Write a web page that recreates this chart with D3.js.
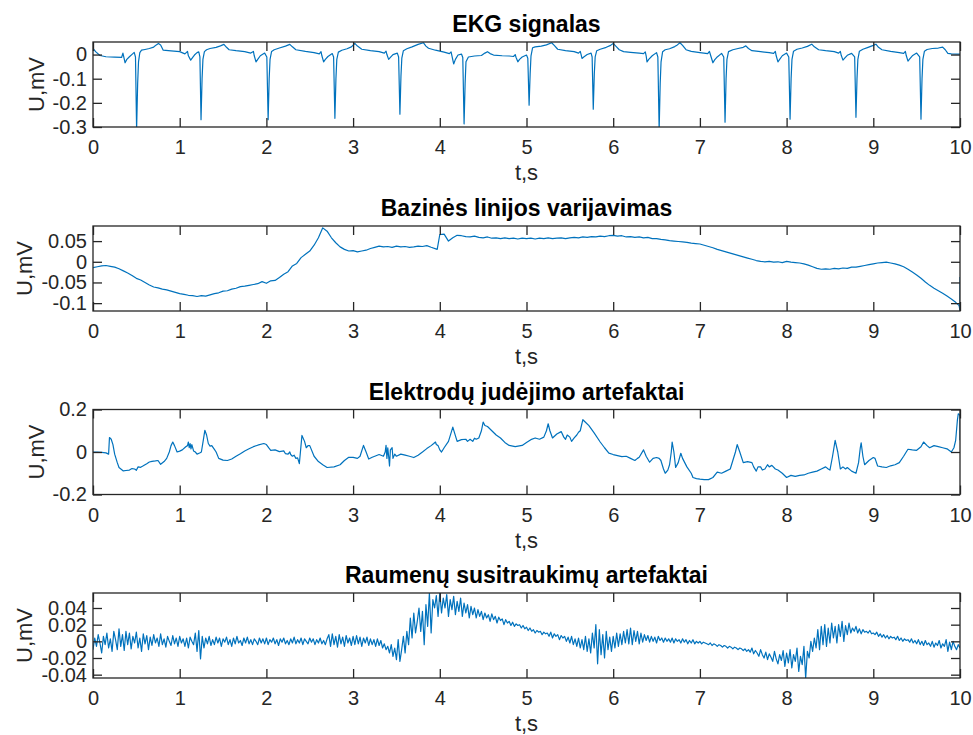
<!DOCTYPE html>
<html><head><meta charset="utf-8">
<script src="https://cdn.jsdelivr.net/npm/d3@7"></script>
<style>html,body{margin:0;padding:0;background:#fff;} svg{display:block;}</style>
</head><body>
<svg id="chart" width="973" height="735"></svg>
<script>
// ---------- DATA ----------
const xTicks = [0,1,2,3,4,5,6,7,8,9,10];
const titles = ["EKG signalas","Bazinės linijos varijavimas","Elektrodų judėjimo artefaktai","Raumenų susitraukimų artefaktai"];
const yTicks1 = [-0.3,-0.2,-0.1,0];
const yTicks2 = [-0.1,-0.05,0,0.05];
const yTicks3 = [-0.2,0,0.2];
const yTicks4 = [-0.04,-0.02,0,0.02,0.04];
const yLabel = "U,mV";
const xLabel = "t,s";

// EKG signal [t, mV]
const ekg = [
[0,0.026],[0.03,0.012],[0.08,-0.004],[0.15,-0.009],[0.25,-0.011],[0.33,-0.012],[0.345,0.006],[0.355,-0.01],[0.37,-0.034],[0.39,-0.02],[0.42,-0.009],[0.46,0.004],[0.475,0.009],[0.49,-0.01],
[0.503,-0.31],[0.515,-0.12],[0.525,-0.03],[0.54,0.008],[0.56,0.018],[0.6,0.021],[0.65,0.025],[0.7,0.031],[0.73,0.04],[0.755,0.046],[0.78,0.04],[0.81,0.018],[0.9,0.015],[1.0,0.012],[1.06,0.003],
[1.09,0.013],[1.1,-0.005],[1.127,-0.023],[1.15,-0.012],[1.17,-0.002],[1.2,0.008],[1.22,0.011],[1.233,-0.01],
[1.246,-0.27],[1.258,-0.1],[1.268,-0.02],[1.285,0.012],[1.31,0.02],[1.35,0.025],[1.42,0.03],[1.47,0.036],[1.51,0.042],[1.54,0.03],[1.57,0.02],[1.65,0.016],[1.75,0.012],[1.82,0.006],
[1.85,0.013],[1.86,-0.005],[1.88,-0.03],[1.9,-0.02],[1.93,-0.005],[1.98,0.006],[2.005,-0.01],
[2.02,-0.27],[2.032,-0.1],[2.042,-0.02],[2.06,0.013],[2.09,0.02],[2.15,0.027],[2.22,0.035],[2.27,0.042],[2.3,0.032],[2.34,0.02],[2.45,0.013],[2.55,0.008],[2.61,0.003],
[2.63,0.012],[2.64,-0.005],[2.66,-0.03],[2.68,-0.02],[2.71,-0.008],[2.76,0.004],[2.775,-0.01],
[2.79,-0.264],[2.802,-0.1],[2.812,-0.02],[2.83,0.01],[2.87,0.018],[2.93,0.024],[2.98,0.032],[3.02,0.046],[3.05,0.035],[3.1,0.022],[3.2,0.016],[3.3,0.012],[3.36,0.006],
[3.38,0.014],[3.39,0.0],[3.41,-0.02],[3.43,-0.012],[3.46,0.0],[3.51,0.006],[3.525,-0.01],
[3.54,-0.247],[3.552,-0.09],[3.562,-0.015],[3.58,0.016],[3.62,0.024],[3.68,0.032],[3.75,0.042],[3.81,0.049],[3.84,0.035],[3.87,0.026],[3.95,0.018],[4.05,0.01],[4.11,0.004],
[4.13,0.011],[4.14,-0.005],[4.16,-0.039],[4.18,-0.02],[4.21,-0.002],[4.25,0.002],[4.265,-0.012],
[4.28,-0.287],[4.292,-0.12],[4.302,-0.03],[4.33,-0.01],[4.4,-0.006],[4.48,-0.004],[4.52,0.006],[4.55,0.012],[4.58,0.004],[4.62,-0.002],[4.72,-0.005],[4.8,-0.006],[4.85,-0.008],
[4.87,0.0],[4.88,-0.012],[4.9,-0.03],[4.92,-0.02],[4.95,-0.01],[5.0,-0.002],[5.015,-0.015],
[5.03,-0.21],[5.042,-0.08],[5.052,-0.005],[5.07,0.028],[5.1,0.032],[5.17,0.035],[5.23,0.04],[5.29,0.049],[5.32,0.038],[5.36,0.022],[5.45,0.016],[5.55,0.012],[5.6,0.006],
[5.62,0.013],[5.63,0.0],[5.64,-0.016],[5.66,-0.01],[5.7,0.0],[5.745,0.006],[5.757,-0.01],
[5.77,-0.226],[5.782,-0.08],[5.792,-0.01],[5.81,0.016],[5.85,0.022],[5.92,0.03],[5.97,0.038],[6.0,0.046],[6.03,0.035],[6.07,0.02],[6.12,0.012],[6.2,0.009],[6.3,0.006],[6.35,0.004],
[6.37,0.011],[6.38,-0.005],[6.39,-0.03],[6.41,-0.02],[6.45,-0.005],[6.5,0.008],[6.515,-0.01],
[6.53,-0.31],[6.542,-0.12],[6.552,-0.03],[6.57,0.012],[6.6,0.02],[6.65,0.024],[6.71,0.033],[6.74,0.04],[6.77,0.049],[6.8,0.038],[6.84,0.02],[6.9,0.013],[7.0,0.008],[7.09,0.004],
[7.11,0.013],[7.125,-0.005],[7.15,-0.034],[7.17,-0.022],[7.2,-0.01],[7.25,0.005],[7.275,-0.01],
[7.29,-0.28],[7.302,-0.1],[7.312,-0.02],[7.33,0.012],[7.38,0.02],[7.44,0.025],[7.5,0.03],[7.53,0.036],[7.56,0.025],[7.6,0.016],[7.7,0.012],[7.8,0.008],[7.85,0.005],
[7.87,0.013],[7.88,-0.005],[7.9,-0.03],[7.92,-0.02],[7.95,-0.005],[8.0,0.006],[8.025,-0.01],
[8.04,-0.268],[8.052,-0.1],[8.062,-0.02],[8.08,0.014],[8.12,0.022],[8.18,0.027],[8.24,0.034],[8.29,0.043],[8.32,0.032],[8.37,0.02],[8.45,0.016],[8.55,0.012],[8.6,0.006],
[8.62,0.013],[8.63,-0.003],[8.65,-0.023],[8.67,-0.015],[8.7,-0.003],[8.75,0.005],[8.785,-0.01],
[8.80,-0.26],[8.812,-0.1],[8.822,-0.02],[8.84,0.014],[8.88,0.022],[8.94,0.03],[9.0,0.038],[9.03,0.043],[9.06,0.03],[9.1,0.02],[9.2,0.013],[9.3,0.008],[9.35,0.005],
[9.37,0.013],[9.38,-0.004],[9.40,-0.027],[9.42,-0.018],[9.45,-0.005],[9.5,0.006],[9.535,-0.01],
[9.55,-0.268],[9.562,-0.1],[9.572,-0.02],[9.59,0.014],[9.62,0.021],[9.68,0.025],[9.75,0.027],[9.8,0.031],[9.83,0.02],[9.86,0.005],[9.9,0.003],[10,0.002]
];

// Baseline wander [t, mV]
const baseline = [
[0,-0.014],[0.05,-0.012],[0.1,-0.01],[0.15,-0.009],[0.2,-0.011],[0.25,-0.013],[0.3,-0.017],[0.35,-0.022],[0.4,-0.027],[0.45,-0.033],[0.5,-0.04],[0.55,-0.044],[0.6,-0.05],[0.65,-0.056],[0.7,-0.061],[0.75,-0.063],[0.8,-0.066],[0.85,-0.068],[0.9,-0.071],[0.95,-0.074],
[1.0,-0.077],[1.05,-0.079],[1.1,-0.081],[1.15,-0.082],[1.2,-0.084],[1.25,-0.082],[1.3,-0.083],[1.35,-0.08],[1.4,-0.077],[1.45,-0.075],[1.5,-0.071],[1.55,-0.07],[1.6,-0.066],[1.65,-0.064],[1.7,-0.06],[1.75,-0.059],[1.8,-0.057],[1.85,-0.055],[1.9,-0.053],[1.95,-0.048],
[2.0,-0.052],[2.05,-0.046],[2.1,-0.045],[2.15,-0.038],[2.2,-0.03],[2.25,-0.024],[2.3,-0.01],[2.35,-0.004],[2.4,0.01],[2.45,0.018],[2.5,0.026],[2.55,0.04],[2.6,0.058],[2.65,0.082],[2.7,0.074],[2.75,0.058],[2.8,0.046],[2.85,0.036],[2.9,0.03],[2.95,0.026],
[3.0,0.027],[3.05,0.024],[3.1,0.026],[3.15,0.028],[3.2,0.032],[3.25,0.035],[3.3,0.038],[3.35,0.036],[3.4,0.037],[3.45,0.035],[3.5,0.038],[3.55,0.036],[3.6,0.037],[3.65,0.035],[3.7,0.036],[3.75,0.038],[3.8,0.037],[3.85,0.039],[3.9,0.035],[3.97,0.03],
[4.0,0.066],[4.05,0.067],[4.1,0.05],[4.15,0.058],[4.2,0.064],[4.25,0.063],[4.3,0.061],[4.35,0.06],[4.4,0.062],[4.45,0.059],[4.5,0.058],[4.55,0.06],[4.6,0.057],[4.65,0.058],[4.7,0.056],[4.75,0.058],[4.8,0.056],[4.85,0.057],[4.9,0.055],[4.95,0.057],
[5.0,0.056],[5.05,0.057],[5.1,0.055],[5.15,0.057],[5.2,0.056],[5.25,0.058],[5.3,0.056],[5.35,0.057],[5.4,0.058],[5.45,0.056],[5.5,0.058],[5.55,0.059],[5.6,0.058],[5.65,0.06],[5.7,0.059],[5.75,0.061],[5.8,0.06],[5.85,0.062],[5.9,0.061],[5.95,0.063],
[6.0,0.064],[6.05,0.062],[6.1,0.063],[6.15,0.06],[6.2,0.061],[6.25,0.059],[6.3,0.06],[6.35,0.058],[6.4,0.059],[6.45,0.056],[6.5,0.056],[6.55,0.054],[6.6,0.053],[6.65,0.051],[6.7,0.05],[6.75,0.049],[6.8,0.048],[6.85,0.047],[6.9,0.045],[6.95,0.044],
[7.0,0.043],[7.05,0.04],[7.1,0.037],[7.15,0.034],[7.2,0.03],[7.25,0.027],[7.3,0.024],[7.35,0.021],[7.4,0.018],[7.45,0.015],[7.5,0.012],[7.55,0.009],[7.6,0.006],[7.65,0.003],[7.7,0.001],[7.75,0.0],[7.8,0.001],[7.85,-0.001],[7.9,0.0],[7.95,-0.002],
[8.0,0.001],[8.05,-0.001],[8.1,-0.002],[8.15,-0.003],[8.2,-0.005],[8.25,-0.008],[8.3,-0.012],[8.35,-0.016],[8.4,-0.018],[8.45,-0.017],[8.5,-0.018],[8.55,-0.016],[8.6,-0.017],[8.65,-0.015],[8.7,-0.016],[8.75,-0.013],[8.8,-0.013],[8.85,-0.011],[8.9,-0.009],[8.95,-0.007],
[9.0,-0.005],[9.05,-0.003],[9.1,-0.002],[9.15,-0.001],[9.2,-0.003],[9.25,-0.005],[9.3,-0.008],[9.35,-0.012],[9.4,-0.018],[9.45,-0.025],[9.5,-0.032],[9.55,-0.04],[9.6,-0.049],[9.65,-0.057],[9.7,-0.064],[9.75,-0.07],[9.8,-0.076],[9.85,-0.083],[9.9,-0.09],[9.95,-0.098],
[9.99,-0.106],[10,-0.119],[10,-0.037]
];

// Electrode motion artefacts [t, mV]
const electrode = [
[0,0],[0.05,0.0],[0.1,-0.002],[0.15,-0.004],[0.18,-0.01],[0.19,0.068],[0.21,0.06],[0.23,0.035],[0.25,-0.01],[0.28,-0.05],[0.3,-0.073],[0.35,-0.089],[0.38,-0.087],[0.42,-0.085],[0.45,-0.078],[0.48,-0.08],[0.5,-0.086],[0.52,-0.07],[0.55,-0.072],[0.58,-0.065],[0.62,-0.055],[0.65,-0.047],[0.68,-0.044],[0.72,-0.042],[0.75,-0.04],[0.78,-0.058],[0.82,-0.045],[0.85,-0.03],[0.88,0.0],[0.9,0.03],[0.92,0.047],[0.94,0.03],[0.97,0.0],
[1.0,0.004],[1.03,0.01],[1.07,0.025],[1.09,0.03],[1.1,0.047],[1.11,0.02],[1.12,0.04],[1.13,0.015],[1.14,0.035],[1.16,0.005],[1.18,0.0],[1.2,-0.01],[1.23,-0.005],[1.25,0.0],[1.27,0.05],[1.29,0.102],[1.31,0.08],[1.33,0.04],[1.35,0.028],[1.37,0.03],[1.4,0.012],[1.42,0.0],[1.45,-0.03],[1.5,-0.038],[1.55,-0.04],[1.6,-0.033],[1.65,-0.02],[1.7,-0.008],[1.75,0.005],[1.8,0.015],[1.85,0.025],[1.9,0.032],[1.97,0.04],
[2.0,0.035],[2.03,0.018],[2.05,0.008],[2.1,0.01],[2.15,0.002],[2.2,0.005],[2.22,-0.008],[2.25,-0.01],[2.27,0.0],[2.28,-0.012],[2.3,-0.02],[2.32,-0.015],[2.34,-0.03],[2.36,-0.028],[2.38,-0.055],[2.41,0.078],[2.44,0.05],[2.46,0.02],[2.48,0.03],[2.5,0.03],[2.55,-0.02],[2.6,-0.045],[2.65,-0.06],[2.7,-0.073],[2.78,-0.07],[2.85,-0.06],[2.9,-0.04],[2.95,-0.025],
[3.0,-0.025],[3.05,-0.03],[3.08,-0.02],[3.12,0.031],[3.15,0.0],[3.18,-0.033],[3.22,-0.025],[3.25,-0.02],[3.3,-0.012],[3.35,-0.02],[3.37,0.0],[3.38,0.031],[3.39,-0.03],[3.4,0.02],[3.41,-0.02],[3.42,-0.066],[3.43,0.01],[3.45,0.02],[3.46,-0.03],[3.48,-0.01],[3.5,-0.02],[3.55,-0.01],[3.6,-0.015],[3.65,-0.02],[3.7,-0.026],[3.75,-0.015],[3.8,0.0],[3.85,0.016],[3.9,0.03],[3.93,0.04],[3.95,0.047],[3.96,0.035],[3.98,0.03],
[4.0,0.01],[4.02,0.0],[4.05,0.02],[4.1,0.05],[4.13,0.09],[4.15,0.117],[4.17,0.09],[4.2,0.05],[4.25,0.058],[4.3,0.06],[4.32,0.05],[4.35,0.06],[4.38,0.05],[4.4,0.065],[4.42,0.06],[4.45,0.066],[4.48,0.1],[4.5,0.141],[4.52,0.125],[4.55,0.12],[4.6,0.1],[4.65,0.08],[4.7,0.066],[4.75,0.045],[4.8,0.031],[4.87,0.025],[4.95,0.031],
[5.0,0.045],[5.05,0.058],[5.1,0.066],[5.15,0.06],[5.2,0.07],[5.23,0.1],[5.25,0.133],[5.27,0.1],[5.3,0.066],[5.35,0.085],[5.4,0.096],[5.43,0.07],[5.45,0.06],[5.47,0.08],[5.5,0.07],[5.52,0.05],[5.55,0.066],[5.58,0.08],[5.6,0.093],[5.62,0.1],[5.65,0.152],[5.68,0.14],[5.72,0.124],[5.78,0.09],[5.85,0.047],[5.9,0.02],[5.95,-0.005],
[6.0,-0.012],[6.1,-0.022],[6.15,-0.02],[6.2,-0.03],[6.25,-0.04],[6.28,-0.03],[6.3,-0.025],[6.35,0.01],[6.38,-0.02],[6.42,-0.048],[6.46,-0.03],[6.5,-0.026],[6.53,-0.03],[6.55,-0.04],[6.58,-0.08],[6.6,-0.1],[6.63,-0.085],[6.65,-0.06],[6.67,0.0],[6.68,0.047],[6.7,0.0],[6.72,-0.073],[6.75,-0.05],[6.78,-0.006],[6.8,-0.03],[6.85,-0.07],[6.9,-0.1],[6.92,-0.12],[6.96,-0.125],
[7.0,-0.128],[7.05,-0.13],[7.1,-0.13],[7.15,-0.12],[7.2,-0.095],[7.25,-0.1],[7.3,-0.09],[7.35,-0.08],[7.38,-0.04],[7.41,0.0],[7.43,0.035],[7.46,0.0],[7.5,-0.05],[7.55,-0.045],[7.6,-0.05],[7.62,-0.07],[7.65,-0.09],[7.67,-0.07],[7.7,-0.07],[7.72,-0.085],[7.75,-0.08],[7.78,-0.06],[7.8,-0.07],[7.83,-0.063],[7.87,-0.08],[7.9,-0.085],[7.95,-0.1],
[8.0,-0.12],[8.05,-0.11],[8.1,-0.115],[8.15,-0.11],[8.2,-0.108],[8.25,-0.1],[8.3,-0.095],[8.35,-0.09],[8.4,-0.08],[8.45,-0.07],[8.48,-0.08],[8.5,-0.085],[8.53,-0.02],[8.56,0.055],[8.59,0.0],[8.62,-0.08],[8.65,-0.07],[8.68,-0.08],[8.7,-0.073],[8.75,-0.09],[8.8,-0.1],[8.83,-0.05],[8.85,0.02],[8.86,0.043],[8.88,-0.02],[8.9,-0.06],[8.95,-0.04],
[9.0,-0.026],[9.02,-0.03],[9.05,-0.066],[9.1,-0.07],[9.15,-0.073],[9.2,-0.065],[9.25,-0.06],[9.3,-0.05],[9.35,-0.02],[9.38,0.0],[9.4,0.013],[9.45,0.01],[9.5,0.008],[9.55,0.025],[9.58,0.047],[9.62,0.03],[9.65,0.02],[9.7,0.03],[9.75,0.025],[9.8,0.02],[9.85,0.015],[9.9,0.0],[9.93,0.02],[9.95,0.055],[9.97,0.15],[9.98,0.18],[9.99,0.178],[10,0.17],[10,0.055]
];

// Muscle artefacts, sampled every 0.02 s from t = 0 (mV)
const muscleDt = 0.02;
const muscle = [
-0.010,0.004,-0.006,0.008,-0.002,-0.014,0.006,-0.004,0.010,-0.008,0.003,-0.012,0.012,0.002,-0.010,0.015,-0.006,0.008,-0.011,0.012,-0.004,0.010,-0.009,0.006,-0.002,0.011,-0.008,0.004,-0.012,0.009,-0.003,0.007,-0.010,0.005,-0.005,0.008,-0.002,0.004,-0.006,0.009,-0.004,0.003,-0.007,0.006,0.000,-0.005,0.007,-0.003,0.004,-0.006,
0.006,-0.002,0.003,-0.006,0.004,-0.008,0.005,0.000,-0.004,0.010,-0.012,0.013,-0.021,0.006,-0.008,0.004,-0.003,0.006,-0.005,0.002,-0.004,0.005,-0.002,0.004,-0.006,0.003,-0.001,0.005,-0.004,0.002,-0.006,0.004,-0.003,0.006,-0.002,0.001,-0.005,0.004,-0.002,0.005,-0.003,0.002,-0.004,0.003,0.000,-0.004,0.004,-0.002,0.003,-0.003,
0.004,-0.004,0.002,-0.001,0.004,-0.003,0.002,-0.005,0.003,-0.001,0.004,-0.003,0.001,-0.004,0.003,-0.002,0.005,-0.003,0.002,-0.002,0.004,-0.004,0.003,0.000,-0.003,0.004,-0.001,0.003,-0.004,0.002,-0.002,0.004,-0.003,0.001,-0.004,0.003,0.008,-0.006,0.009,-0.004,0.006,-0.007,0.008,-0.003,0.005,-0.006,0.007,-0.002,0.004,-0.005,
0.006,-0.004,0.007,-0.003,0.005,-0.006,0.004,-0.002,0.005,-0.005,0.003,-0.004,0.002,-0.006,0.003,-0.005,0.001,-0.008,-0.003,-0.010,-0.006,-0.014,-0.004,-0.018,-0.008,-0.022,0.002,-0.024,-0.010,0.006,-0.014,0.012,-0.004,0.028,0.004,0.034,0.010,0.024,0.040,0.012,0.036,-0.004,0.044,0.018,0.058,0.010,0.050,0.040,0.055,0.030,
0.058,0.034,0.052,0.040,0.056,0.030,0.050,0.038,0.054,0.032,0.048,0.036,0.052,0.030,0.046,0.034,0.044,0.028,0.042,0.032,0.040,0.028,0.038,0.030,0.036,0.026,0.034,0.028,0.032,0.024,0.033,0.026,0.030,0.022,0.029,0.025,0.027,0.020,0.026,0.022,0.024,0.019,0.023,0.018,0.021,0.019,0.020,0.016,0.019,0.015,
0.017,0.013,0.016,0.012,0.014,0.010,0.013,0.011,0.012,0.008,0.011,0.009,0.010,0.006,0.011,0.004,0.009,0.006,0.008,0.002,0.007,0.004,0.006,0.000,0.005,-0.002,0.006,-0.004,0.003,-0.006,0.004,-0.008,0.002,-0.010,0.006,-0.012,0.003,-0.014,0.010,-0.008,0.020,-0.027,0.014,-0.016,0.008,-0.020,0.012,-0.010,0.005,-0.012,
0.006,-0.008,0.010,-0.006,0.009,-0.004,0.012,-0.002,0.014,-0.003,0.016,-0.004,0.013,0.000,0.012,-0.003,0.010,-0.001,0.008,0.001,0.007,-0.001,0.006,0.000,0.005,-0.002,0.006,0.001,0.004,-0.001,0.004,0.000,0.003,-0.001,0.004,-0.002,0.003,0.000,0.002,-0.002,0.003,-0.001,0.002,-0.003,0.001,-0.002,0.002,-0.003,0.000,-0.002,
0.000,-0.003,-0.001,-0.002,-0.003,-0.004,-0.002,-0.005,-0.003,-0.004,-0.006,-0.004,-0.005,-0.007,-0.005,-0.006,-0.008,-0.006,-0.007,-0.009,-0.007,-0.008,-0.010,-0.008,-0.009,-0.011,-0.009,-0.012,-0.010,-0.013,-0.008,-0.015,-0.011,-0.014,-0.018,-0.010,-0.016,-0.020,-0.013,-0.022,-0.015,-0.019,-0.024,-0.012,-0.021,-0.027,-0.016,-0.023,-0.011,-0.030,
-0.014,-0.026,-0.010,-0.032,-0.016,-0.024,-0.008,-0.036,-0.018,-0.028,-0.006,-0.044,-0.012,-0.020,0.000,-0.012,0.004,-0.008,0.014,-0.010,0.018,-0.004,0.020,-0.006,0.016,-0.002,0.022,0.004,0.018,-0.002,0.020,0.006,0.024,0.000,0.019,0.008,0.022,0.010,0.016,0.012,0.018,0.010,0.015,0.009,0.014,0.011,0.012,0.010,0.013,0.009,
0.010,0.008,0.011,0.006,0.009,0.005,0.008,0.004,0.007,0.003,0.006,0.004,0.005,0.002,0.006,0.001,0.004,0.000,0.003,0.001,0.002,-0.001,0.003,-0.002,0.001,-0.003,0.002,-0.004,0.000,-0.005,0.001,-0.004,-0.002,-0.006,0.000,-0.007,-0.002,-0.005,0.001,-0.008,-0.003,-0.006,0.002,-0.012,-0.001,-0.010,0.000,-0.006,-0.010,-0.004,
-0.008
];
const muscleData = muscle.map((v,i)=>[i*muscleDt, v]);

// ---------- DRAW ----------
const svg = d3.select("#chart");
const left = 93, right = 960, ph = 85;
const fontFam = "'Liberation Sans', Arial, Helvetica, sans-serif";
const axisColor = "#262626";
const tickLen = 9;
const x = d3.scaleLinear().domain([0,10]).range([left,right]);

const panels = [
  {data: ekg, domain: [-0.3, 0.052], ticks: yTicks1, top: 42},
  {data: baseline, domain: [-0.119, 0.0865], ticks: yTicks2, top: 226},
  {data: electrode, domain: [-0.2, 0.2], ticks: yTicks3, top: 409.5},
  {data: muscleData, domain: [-0.044, 0.058], ticks: yTicks4, top: 593}
];
const fmt = v => (v === 0 ? "0" : String(+v.toFixed(3)));

panels.forEach((p, i) => {
  const top = p.top, bottom = top + ph;
  const y = d3.scaleLinear().domain(p.domain).range([bottom, top]);
  const g = svg.append("g");

  g.append("clipPath").attr("id", "clip" + i)
    .append("rect").attr("x", left).attr("y", top).attr("width", right - left).attr("height", ph);

  g.append("path").datum(p.data)
    .attr("clip-path", `url(#clip${i})`)
    .attr("fill", "none").attr("stroke", "#0072BD").attr("stroke-width", 1.2)
    .attr("stroke-linejoin", "round")
    .attr("d", d3.line().x(d => x(d[0])).y(d => y(d[1])));

  const styleAxis = sel => {
    sel.select(".domain").remove();
    sel.selectAll(".tick line").attr("stroke", axisColor).attr("stroke-width", 1.3);
    sel.selectAll(".tick text").attr("fill", axisColor).attr("font-family", fontFam).attr("font-size", 20);
  };
  g.append("g").attr("transform", `translate(0,${bottom})`)
    .call(d3.axisBottom(x).tickValues(xTicks).tickSizeInner(-tickLen).tickSizeOuter(0).tickPadding(13).tickFormat(d3.format("d")))
    .call(styleAxis);
  g.append("g").attr("transform", `translate(0,${top})`)
    .call(d3.axisTop(x).tickValues(xTicks).tickSizeInner(-tickLen).tickSizeOuter(0).tickFormat(""))
    .call(styleAxis);
  const yl = g.append("g").attr("transform", `translate(${left},0)`)
    .call(d3.axisLeft(y).tickValues(p.ticks).tickSizeInner(-tickLen).tickSizeOuter(0).tickPadding(6).tickFormat(fmt))
    .call(styleAxis);
  g.append("g").attr("transform", `translate(${right},0)`)
    .call(d3.axisRight(y).tickValues(p.ticks).tickSizeInner(-tickLen).tickSizeOuter(0).tickFormat(""))
    .call(styleAxis);

  g.append("rect").attr("x", left).attr("y", top).attr("width", right - left).attr("height", ph)
    .attr("fill", "none").attr("stroke", axisColor).attr("stroke-width", 1.3);

  let maxW = 0;
  yl.selectAll(".tick text").each(function(){ maxW = Math.max(maxW, this.getComputedTextLength()); });
  const lx = left - 6 - maxW - 9;
  g.append("text").attr("transform", `translate(${lx},${(top + bottom) / 2}) rotate(-90)`)
    .attr("text-anchor", "middle").attr("font-family", fontFam).attr("font-size", 22)
    .attr("fill", axisColor).text(yLabel);

  g.append("text").attr("x", (left + right) / 2).attr("y", bottom + 53)
    .attr("text-anchor", "middle").attr("font-family", fontFam).attr("font-size", 22)
    .attr("fill", axisColor).text(xLabel);

  g.append("text").attr("x", (left + right) / 2).attr("y", top - 10)
    .attr("text-anchor", "middle").attr("font-family", fontFam).attr("font-size", 23)
    .attr("font-weight", "bold").attr("fill", "#000").text(titles[i]);
});
</script>
</body></html>
